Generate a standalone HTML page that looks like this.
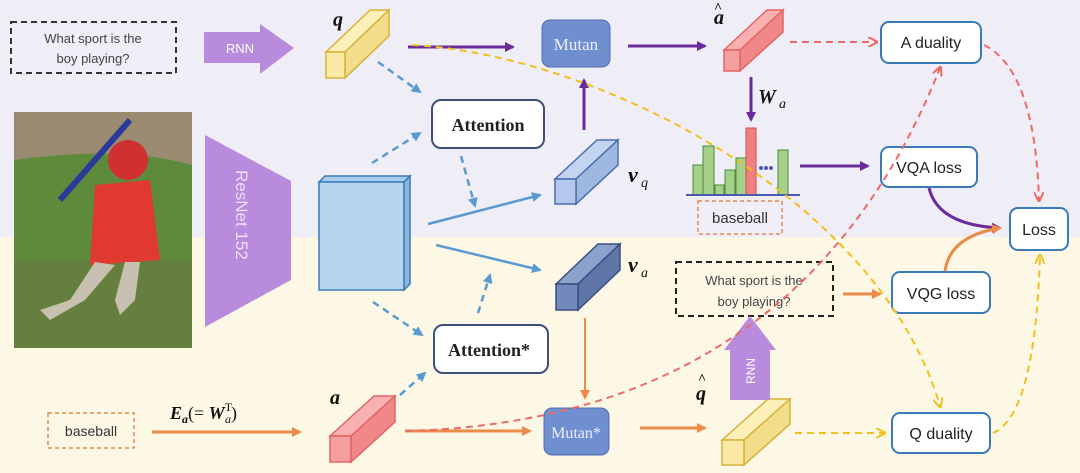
<!DOCTYPE html>
<html><head><meta charset="utf-8"><style>
html,body{margin:0;padding:0;width:1080px;height:473px;overflow:hidden;background:#fdf8e6}
svg{display:block}
.s{font-family:"Liberation Sans",sans-serif}
.sf{font-family:"Liberation Serif",serif}
</style></head><body>
<svg width="1080" height="473" viewBox="0 0 1080 473" xmlns="http://www.w3.org/2000/svg">
<defs>
<marker id="mp" markerWidth="10" markerHeight="10" refX="8" refY="5" orient="auto" markerUnits="userSpaceOnUse"><path d="M0,0 L10,5 L0,10 z" fill="#6a2a9a"/></marker>
<marker id="mb" markerWidth="10" markerHeight="10" refX="8" refY="5" orient="auto" markerUnits="userSpaceOnUse"><path d="M0,0 L10,5 L0,10 z" fill="#5a9ad0"/></marker>
<marker id="mr" markerWidth="10" markerHeight="10" refX="8" refY="5" orient="auto" markerUnits="userSpaceOnUse"><path d="M0,0 L10,5 L0,10" fill="none" stroke="#ee6a6a" stroke-width="2"/></marker>
<marker id="my" markerWidth="10" markerHeight="10" refX="8" refY="5" orient="auto" markerUnits="userSpaceOnUse"><path d="M0,0 L10,5 L0,10" fill="none" stroke="#f0c020" stroke-width="2"/></marker>
<marker id="mo" markerWidth="10" markerHeight="10" refX="8" refY="5" orient="auto" markerUnits="userSpaceOnUse"><path d="M0,0 L10,5 L0,10 z" fill="#ec8a48"/></marker>
</defs>
<rect x="0" y="0" width="1080" height="237" fill="#efeef6"/>
<rect x="0" y="237" width="1080" height="236" fill="#fdf8e6"/>

<rect x="11" y="22" width="165" height="51" fill="none" stroke="#333" stroke-width="2" stroke-dasharray="6,4"/>
<text class="s" x="93" y="43" font-size="13" fill="#444" text-anchor="middle">What sport is the</text>
<text class="s" x="93" y="63" font-size="13" fill="#444" text-anchor="middle">boy playing?</text>
<path d="M204,32 L260,32 L260,24 L294,48 L260,74 L260,63 L204,63 z" fill="#b88bdc"/>
<text class="s" x="240" y="53" font-size="13" fill="#fff" text-anchor="middle">RNN</text>

<rect x="14" y="112" width="178" height="236" fill="#5e8a3c"/>
<path d="M14,112 L192,112 L192,165 Q120,145 14,160 z" fill="#9b8a72"/>
<rect x="14" y="260" width="178" height="88" fill="#6a7a40" opacity="0.6"/>
<line x1="60" y1="200" x2="130" y2="120" stroke="#2a3a9a" stroke-width="6"/>
<circle cx="128" cy="160" r="20" fill="#d03030"/>
<path d="M95,185 L150,180 L160,260 L90,265 z" fill="#e03a30"/>
<path d="M95,262 L70,300 L40,310 L50,320 L85,300 L115,265 z M125,262 L115,300 L120,315 L135,300 L140,262 z" fill="#c8c0b0"/>

<path d="M205,135 L291,181 L291,280 L205,327 z" fill="#b88bdc"/>
<text class="s" x="0" y="0" font-size="17" fill="#ece0f8" transform="translate(236,170) rotate(90)">ResNet 152</text>

<path d="M319,182 L325,176 L410,176 L404,182 z" fill="#a9cbea" stroke="#3a7ab8" stroke-width="1.5"/>
<path d="M404,182 L410,176 L410,284 L404,290 z" fill="#8fb6dc" stroke="#3a7ab8" stroke-width="1.5"/>
<rect x="319" y="182" width="85" height="108" fill="#b6d6f0" stroke="#3a7ab8" stroke-width="1.5"/>

<g stroke="#d6b23a" stroke-width="1.5">
<path d="M326,52 L370,10 L389,10 L345,52 z" fill="#fdf0b8"/>
<path d="M345,52 L389,10 L389,36 L345,78 z" fill="#f2de8a"/>
<rect x="326" y="52" width="19" height="26" fill="#fbe9a6"/>
</g>
<text class="sf" x="333" y="26" font-size="20" font-weight="bold" font-style="italic" fill="#111">q</text>

<g stroke="#e06666" stroke-width="1.5">
<path d="M724,50 L767,10 L783,10 L740,50 z" fill="#f9b0b0"/>
<path d="M740,50 L783,10 L783,32 L740,71 z" fill="#f08888"/>
<rect x="724" y="50" width="16" height="21" fill="#f5a0a0"/>
</g>
<text class="sf" x="714" y="24" font-size="20" font-weight="bold" font-style="italic" fill="#111">a</text>
<text class="sf" x="714" y="12" font-size="14" font-weight="bold" fill="#111">^</text>

<g stroke="#4a6fae" stroke-width="1.5">
<path d="M555,179 L597,140 L618,140 L576,179 z" fill="#c2d4f0"/>
<path d="M576,179 L618,140 L618,165 L576,204 z" fill="#9fb8e2"/>
<rect x="555" y="179" width="21" height="25" fill="#b3c8ec"/>
</g>
<text class="sf" x="628" y="182" font-size="22" font-weight="bold" font-style="italic" fill="#111">v</text>
<text class="sf" x="641" y="187" font-size="14" font-style="italic" fill="#111">q</text>

<g stroke="#3a4f80" stroke-width="1.5">
<path d="M556,284 L598,244 L620,244 L578,284 z" fill="#8ca2cc"/>
<path d="M578,284 L620,244 L620,270 L578,310 z" fill="#5e76a8"/>
<rect x="556" y="284" width="22" height="26" fill="#7189bb"/>
</g>
<text class="sf" x="628" y="272" font-size="22" font-weight="bold" font-style="italic" fill="#111">v</text>
<text class="sf" x="641" y="277" font-size="14" font-style="italic" fill="#111">a</text>

<g stroke="#e06666" stroke-width="1.5">
<path d="M330,436 L374,396 L395,396 L351,436 z" fill="#f9b0b0"/>
<path d="M351,436 L395,396 L395,422 L351,462 z" fill="#f08888"/>
<rect x="330" y="436" width="21" height="26" fill="#f5a0a0"/>
</g>
<text class="sf" x="330" y="404" font-size="20" font-weight="bold" font-style="italic" fill="#111">a</text>

<g stroke="#d6b23a" stroke-width="1.5">
<path d="M722,440 L768,399 L790,399 L744,440 z" fill="#fdf0b8"/>
<path d="M744,440 L790,399 L790,424 L744,465 z" fill="#f2de8a"/>
<rect x="722" y="440" width="22" height="25" fill="#fbe9a6"/>
</g>
<text class="sf" x="696" y="400" font-size="20" font-weight="bold" font-style="italic" fill="#111">q</text>
<text class="sf" x="698" y="383" font-size="14" font-weight="bold" fill="#111">^</text>

<rect x="542" y="20" width="68" height="47" rx="8" fill="#6f8fcf" stroke="#4d6db0"/>
<text class="sf" x="576" y="50" font-size="17" fill="#eef" text-anchor="middle">Mutan</text>
<rect x="544" y="408" width="65" height="47" rx="8" fill="#6f8fcf" stroke="#4d6db0"/>
<text class="sf" x="576" y="438" font-size="16" fill="#eef" text-anchor="middle">Mutan*</text>
<rect x="432" y="100" width="112" height="48" rx="9" fill="#fff" stroke="#3d4f7a" stroke-width="2"/>
<text class="sf" x="488" y="131" font-size="18" font-weight="bold" fill="#222" text-anchor="middle">Attention</text>
<rect x="434" y="325" width="114" height="48" rx="9" fill="#fff" stroke="#3d4f7a" stroke-width="2"/>
<text class="sf" x="489" y="356" font-size="18" font-weight="bold" fill="#222" text-anchor="middle">Attention*</text>

<g stroke="#3a7ab8" stroke-width="2" fill="#fff">
<rect x="881" y="22" width="100" height="41" rx="8"/>
<rect x="881" y="147" width="96" height="40" rx="8"/>
<rect x="1010" y="208" width="58" height="42" rx="8"/>
<rect x="892" y="272" width="98" height="41" rx="8"/>
<rect x="892" y="413" width="98" height="40" rx="8"/>
</g>
<g class="s" font-size="16" fill="#222" text-anchor="middle">
<text x="931" y="48">A duality</text>
<text x="929" y="173">VQA loss</text>
<text x="1039" y="235">Loss</text>
<text x="941" y="299">VQG loss</text>
<text x="941" y="439">Q duality</text>
</g>

<g stroke="#4a8a3a" stroke-width="1" fill="#a6d18a">
<rect x="693" y="165" width="10" height="30"/>
<rect x="703" y="146" width="11" height="49"/>
<rect x="715" y="185" width="9" height="10"/>
<rect x="725" y="170" width="10" height="25"/>
<rect x="736" y="158" width="10" height="37"/>
<rect x="778" y="150" width="10" height="45"/>
</g>
<rect x="746" y="128" width="10" height="67" fill="#f08080" stroke="#d05050"/>
<circle cx="761" cy="168" r="2" fill="#4a5ab0"/><circle cx="766" cy="168" r="2" fill="#4a5ab0"/><circle cx="771" cy="168" r="2" fill="#4a5ab0"/>
<line x1="686" y1="195" x2="800" y2="195" stroke="#4a5ab0" stroke-width="2"/>
<rect x="698" y="201" width="84" height="33" fill="none" stroke="#e08a50" stroke-width="1.5" stroke-dasharray="4,3"/>
<text class="s" x="740" y="223" font-size="15" fill="#333" text-anchor="middle">baseball</text>

<rect x="48" y="413" width="86" height="35" fill="none" stroke="#e08a50" stroke-width="1.5" stroke-dasharray="4,3"/>
<text class="s" x="91" y="436" font-size="14" fill="#333" text-anchor="middle">baseball</text>

<rect x="676" y="262" width="157" height="54" fill="none" stroke="#222" stroke-width="2" stroke-dasharray="6,4"/>
<text class="s" x="754" y="285" font-size="13" fill="#444" text-anchor="middle">What sport is the</text>
<text class="s" x="754" y="306" font-size="13" fill="#444" text-anchor="middle">boy playing?</text>

<path d="M730,400 L730,350 L724,350 L750,316 L776,350 L770,350 L770,400 z" fill="#b88bdc"/>
<text class="s" x="0" y="0" font-size="12" fill="#fff" transform="translate(755,384) rotate(-90)">RNN</text>

<text class="sf" x="170" y="419" font-size="18" fill="#111"><tspan font-weight="bold" font-style="italic">E</tspan><tspan font-size="12" font-style="italic" dy="4" font-weight="bold">a</tspan><tspan dy="-4">(= </tspan><tspan font-weight="bold" font-style="italic">W</tspan><tspan font-size="12" dy="-8">T</tspan><tspan font-size="12" dx="-7" dy="12" font-style="italic">a</tspan><tspan dy="-4">)</tspan></text>

<g fill="none">
<line x1="408" y1="47" x2="513" y2="47" stroke="#6a2a9a" stroke-width="3" marker-end="url(#mp)"/>
<line x1="628" y1="46" x2="705" y2="46" stroke="#6a2a9a" stroke-width="3" marker-end="url(#mp)"/>
<line x1="584" y1="130" x2="584" y2="80" stroke="#6a2a9a" stroke-width="3" marker-end="url(#mp)"/>
<line x1="751" y1="77" x2="751" y2="120" stroke="#6a2a9a" stroke-width="3" marker-end="url(#mp)"/>
<line x1="800" y1="166" x2="868" y2="166" stroke="#6a2a9a" stroke-width="3" marker-end="url(#mp)"/>
<path d="M929,188 Q938,225 1000,228" stroke="#6a2a9a" stroke-width="3" marker-end="url(#mp)"/>
<text class="sf" x="758" y="103" font-size="20" font-weight="bold" font-style="italic" fill="#111" stroke="none">W</text>
<text class="sf" x="779" y="108" font-size="14" font-style="italic" fill="#111" stroke="none">a</text>
<line x1="378" y1="62" x2="420" y2="92" stroke="#5a9ad0" stroke-width="2.5" stroke-dasharray="7,5" marker-end="url(#mb)"/>
<line x1="372" y1="163" x2="420" y2="133" stroke="#5a9ad0" stroke-width="2.5" stroke-dasharray="7,5" marker-end="url(#mb)"/>
<line x1="461" y1="156" x2="475" y2="206" stroke="#5a9ad0" stroke-width="2.5" stroke-dasharray="7,5" marker-end="url(#mb)"/>
<line x1="428" y1="224" x2="540" y2="195" stroke="#5a9ad0" stroke-width="2.5" marker-end="url(#mb)"/>
<line x1="436" y1="245" x2="540" y2="270" stroke="#5a9ad0" stroke-width="2.5" marker-end="url(#mb)"/>
<line x1="373" y1="302" x2="422" y2="335" stroke="#5a9ad0" stroke-width="2.5" stroke-dasharray="7,5" marker-end="url(#mb)"/>
<line x1="478" y1="313" x2="490" y2="275" stroke="#5a9ad0" stroke-width="2.5" stroke-dasharray="7,5" marker-end="url(#mb)"/>
<line x1="400" y1="395" x2="425" y2="373" stroke="#5a9ad0" stroke-width="2.5" stroke-dasharray="7,5" marker-end="url(#mb)"/>
<line x1="152" y1="432" x2="300" y2="432" stroke="#ec8a48" stroke-width="3" marker-end="url(#mo)"/>
<line x1="405" y1="431" x2="530" y2="431" stroke="#ec8a48" stroke-width="3" marker-end="url(#mo)"/>
<line x1="585" y1="318" x2="585" y2="398" stroke="#ec8a48" stroke-width="2" marker-end="url(#mo)"/>
<line x1="640" y1="428" x2="705" y2="428" stroke="#ec8a48" stroke-width="3" marker-end="url(#mo)"/>
<line x1="843" y1="294" x2="880" y2="294" stroke="#ec8a48" stroke-width="3" marker-end="url(#mo)"/>
<path d="M945,271 Q950,236 1000,228" stroke="#ec8a48" stroke-width="3" marker-end="url(#mo)"/>
<line x1="790" y1="42" x2="876" y2="42" stroke="#ee6a6a" stroke-width="2" stroke-dasharray="7,5" marker-end="url(#mr)"/>
<path d="M984,45 Q1035,70 1039,200" stroke="#ee6a6a" stroke-width="2" stroke-dasharray="7,5" marker-end="url(#mr)"/>
<path d="M406,431 Q800,420 940,68" stroke="#ee6a6a" stroke-width="2" stroke-dasharray="7,5" marker-end="url(#mr)"/>
<path d="M412,45 C600,55 880,200 940,406" stroke="#f0c020" stroke-width="2" stroke-dasharray="7,5" marker-end="url(#my)"/>
<line x1="795" y1="433" x2="884" y2="433" stroke="#f0c020" stroke-width="2" stroke-dasharray="7,5" marker-end="url(#my)"/>
<path d="M993,433 Q1035,415 1040,256" stroke="#f0c020" stroke-width="2" stroke-dasharray="7,5" marker-end="url(#my)"/>
</g>
</svg>
</body></html>
